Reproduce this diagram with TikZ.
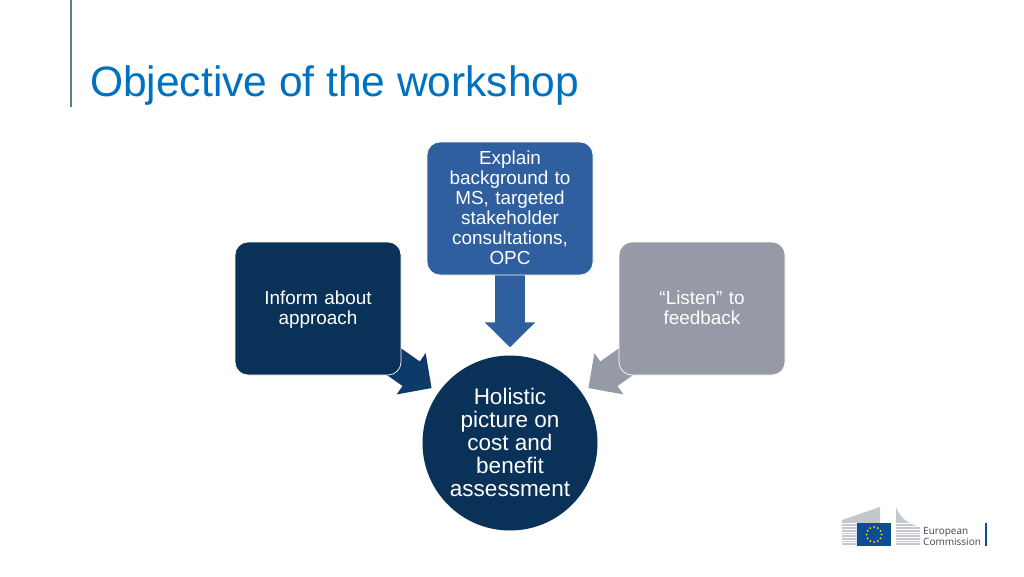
\documentclass[tikz,border=0pt]{standalone}
\usepackage{fontspec}
\setmainfont{Liberation Sans}
\newfontfamily\logofont{Open Sans}
\usetikzlibrary{arrows.meta}
\usetikzlibrary{backgrounds}
\definecolor{titleblue}{HTML}{0070C0}
\definecolor{ruleteal}{HTML}{56808A}
\definecolor{boxblue}{HTML}{2F5F9E}
\definecolor{boxnavy}{HTML}{0A3158}
\definecolor{arrownavy}{HTML}{0E3A69}
\definecolor{boxgray}{HTML}{969AA6}
\definecolor{logogray}{HTML}{C4C8CC}
\definecolor{logoblue}{HTML}{0F4C96}
\definecolor{logotext}{HTML}{3F454C}
\newcommand{\labstart}{\rule{0pt}{0.96em}}
\newcommand{\labend}{\rule[-0.3em]{0pt}{0.3em}}
\tikzset{
  stepbox/.style={draw=white, line width=0.7pt, rounded corners=13pt, minimum width=166pt, minimum height=133pt,
    inner sep=0pt, align=center, text=white, font=\fontsize{18.9}{20}\selectfont},
  blockarrow/.style={line width=30pt, -{Triangle[length=25pt, width=49pt]}, shorten >=8pt},
}
\begin{document}
\begin{tikzpicture}[x=1pt, y=-1pt]
    \useasboundingbox (0, 0) rectangle (1024, 576);

    % title
    \fill[ruleteal] (69.5, 0) rectangle (72, 107);
    \node[anchor=west, inner sep=0pt, text=titleblue, font=\fontsize{42.5}{42.5}\selectfont] (title) at (90, 86) {Objective of the workshop};

    % boxes
    \node[stepbox, fill=boxblue, text width=130pt] (explain) at (510, 208.5) {\labstart Explain\\background to\\MS, targeted\\stakeholder\\consultations,\\OPC\labend};
    \node[stepbox, fill=boxnavy, text width=130pt] (inform) at (318, 308.5) {\labstart Inform about\\approach\labend};
    \node[stepbox, fill=boxgray, text width=130pt] (listen) at (702, 308.5) {\labstart “Listen” to\\feedback\labend};

    % centre circle
    \node[circle, fill=boxnavy, minimum size=175pt, inner sep=0pt, align=center, text=white, font=\fontsize{22.5}{23}\selectfont] (holistic) at (510, 443) {\labstart Holistic\\picture on\\cost and\\benefit\\assessment\labend};

    % arrows go under the boxes
    \begin{pgfonlayer}{background}
    \fill[white] (0, 0) rectangle (1024, 576);
    \draw[blockarrow, boxblue] (explain) -- (holistic);
    \draw[blockarrow, arrownavy, shorten <=-30pt] (inform) -- (holistic);
    \draw[blockarrow, boxgray, shorten <=-30pt] (listen) -- (holistic);
    \end{pgfonlayer}

    % logo
    \fill[logogray] (842, 520) -- (880, 507) -- (880, 523) -- (857, 523) -- (857, 546) -- (842, 546) -- cycle;
    \fill[logogray] (896, 507) .. controls (900, 518) and (908, 524) .. (920, 527) -- (920, 546) -- (896, 546) -- cycle;
    \foreach \j in {1, ..., 9}
    \draw[white, line width=0.5pt] (842, 521 + 2.7*\j) -- +(78, 0);
    \fill[logoblue] (857, 523) rectangle (891, 546);
    \foreach \a in {0, 30, ..., 330}
    \fill[yellow!90!orange] (874, 534.5) ++(\a:7.5) circle (1);
    \node[anchor=north west, inner sep=0pt, align=left, text=logotext, font=\logofont\fontsize{10}{11.5}\selectfont] (logotext) at (923, 527) {European\\Commission};
    \fill[logoblue] (985, 523) rectangle (987, 546);
\end{tikzpicture}
\end{document}
